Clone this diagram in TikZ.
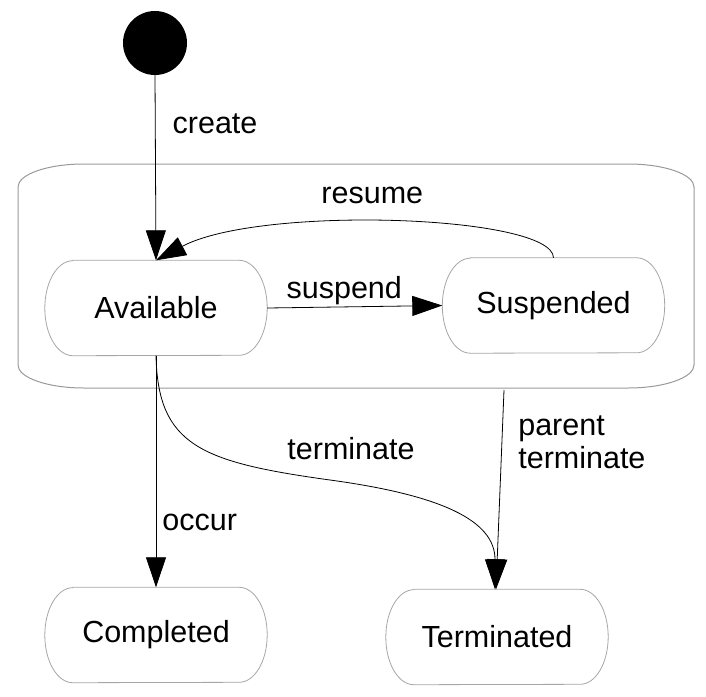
\documentclass[tikz,border=0pt]{standalone}
\usepackage{fontspec}
\setmainfont{Liberation Sans}
\usetikzlibrary{arrows.meta,positioning}

\begin{document}
\begin{tikzpicture}[x=1pt, y=-1pt,
  state/.style={minimum width=222pt, minimum height=95pt, font=\fontsize{30.5}{34}\selectfont},
  outline/.style={draw=gray!70, line width=0.8pt},
  trans/.style={-{Triangle[length=30pt,width=20pt]}, line width=0.8pt},
  lbl/.style={font=\fontsize{30.5}{33}\selectfont, inner sep=2pt}]

\useasboundingbox (0,0) rectangle (706,696);

% Composite state round the two inner states (oval corners)
\draw[gray!80, line width=1pt] (84,164) -- (628,164)
  arc[start angle=-90, end angle=0, x radius=66, y radius=23] -- (694,365)
  arc[start angle=0, end angle=90, x radius=66, y radius=23] -- (84,388)
  arc[start angle=90, end angle=180, x radius=66, y radius=23] -- (18,187)
  arc[start angle=180, end angle=270, x radius=66, y radius=23] -- cycle;

% Initial pseudo state
\node[circle, fill=black, minimum size=64pt, inner sep=0pt] (init) at (155,43) {};

% States
\node[state] (avail) at (156,308) {Available};
\node[state] (susp) at (553.5,305.5) {Suspended};
\node[state] (compl) at (156,635) {Completed};
\node[state] (term) at (497,637) {Terminated};

% State outlines with oval ends
\foreach \n in {avail,susp,compl,term} {
  \draw[outline] ([xshift=28pt]\n.north west) -- ([xshift=-28pt]\n.north east)
    arc[start angle=-90, end angle=90, x radius=28, y radius=47.5] -- ([xshift=28pt]\n.south west)
    arc[start angle=90, end angle=270, x radius=28, y radius=47.5] -- cycle;
}

% Transitions
\draw[trans] (init.south) -- node[lbl, right, pos=0.26, xshift=15pt] {create} (avail.north);

\draw[trans] (avail.east) -- node[lbl, above, pos=0.44] {suspend} (susp.west);

\draw[trans] (susp.north) .. controls (553,215) and (260,205) .. node[lbl, above, pos=0.55, xshift=5pt, yshift=16pt] {resume} (avail.north);

\draw[trans] (avail.south) -- node[lbl, right, pos=0.72, xshift=4pt] {occur} (compl.north);

\draw[trans] (avail.south) .. controls (158,445) and (200,462) .. node[lbl, pos=1, xshift=21pt, yshift=31pt] {terminate} (330,480)
  .. controls (440,495) and (495,520) .. ([xshift=-2pt]term.north);

\coordinate (leave) at (504,390);
\draw[trans] (leave) -- node[lbl, right, align=left, pos=0.26, xshift=14pt] {parent\\terminate} ([xshift=-1pt]term.north);

\end{tikzpicture}
\end{document}
